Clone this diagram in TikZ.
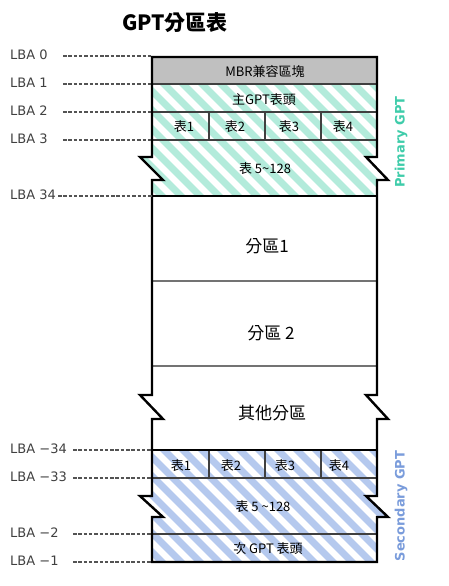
\documentclass[tikz,border=0pt]{standalone}
\usepackage{fontspec}
\setmainfont{DejaVu Sans}
\newfontfamily\cjk{Noto Sans CJK TC}
\usepackage{tikz}
\usetikzlibrary{positioning}
\definecolor{gptteal}{HTML}{B3EBDB}
\definecolor{gptblue}{HTML}{B5C9EE}
\definecolor{tealtext}{HTML}{3FCCAA}
\definecolor{bluetext}{HTML}{7A9CDB}
\definecolor{mbrgray}{HTML}{C0C0C0}
\definecolor{lbagray}{HTML}{404040}
\newcommand\gptoutline{(152,57) -- (152,157) -- (140,157) -- (163,180) -- (152,180)
  -- (152,395) -- (140,395) -- (163,419) -- (152,419)
  -- (152,496) -- (140,496) -- (163,517) -- (152,517) -- (152,562)
  -- (377,562) -- (377,517) -- (388,517) -- (366,496) -- (377,496)
  -- (377,419) -- (388,419) -- (366,395) -- (377,395)
  -- (377,180) -- (388,180) -- (366,157) -- (377,157) -- (377,57) -- cycle}

\begin{document}
\begin{tikzpicture}[x=1pt, y=-1pt,
    lba/.style={font=\fontsize{13}{15}\selectfont, text=lbagray, anchor=west, inner sep=0pt},
    lead/.style={draw=lbagray!90, dash pattern=on 3.5pt off 1.8pt, line width=1.3pt},
    cell/.style={font=\cjk\fontsize{13}{15}\selectfont, inner sep=0pt},
    part/.style={font=\cjk\fontsize{17}{19}\selectfont, inner sep=0pt},
    rowline/.style={draw=black!75, line width=1.2pt},
    partline/.style={draw=black!55, line width=1.6pt},
    boxedge/.style={draw=black, line width=2.4pt, line join=miter},
    stripe/.style={line width=6.8pt},
    side/.style={font=\bfseries\fontsize{13}{15}\selectfont, rotate=90, inner sep=0pt},
]
\useasboundingbox (0,0) rectangle (448,586);

\begin{scope}
  \clip \gptoutline;
  \fill[white] (120,50) rectangle (400,570);
  \fill[mbrgray] (120,50) rectangle (400,84);
  \begin{scope}
    \clip (120,84) rectangle (400,196);
    \foreach \a in {-40,-21,...,400} \draw[stripe, gptteal] (\a,70) -- (\a+140,210);
  \end{scope}
  \begin{scope}
    \clip (120,450) rectangle (400,562);
    \foreach \a in {-40,-21,...,400} \draw[stripe, gptblue] (\a,436) -- (\a+140,576);
  \end{scope}
\end{scope}

\foreach \y in {84,112,140,478,534} \draw[rowline] (152,\y) -- (377,\y);
\foreach \y in {281,366} \draw[partline] (152,\y) -- (377,\y);
\foreach \x in {209,265,321} \draw[rowline] (\x,112) -- (\x,140) (\x,450) -- (\x,478);
\foreach \y in {196,450} \draw[boxedge] (152,\y) -- (377,\y);
\draw[boxedge] \gptoutline;

\node[font=\cjk\bfseries\fontsize{21}{24}\selectfont] (title) at (175,23) {GPT分區表};

\foreach \n/\y/\t/\d in {a/56/LBA 0/63, b/84/LBA 1/63, c/112/LBA 2/63, d/140/LBA 3/63,
    e/196/LBA 34/58, f/450/LBA −34/73, g/478/LBA −33/73, h/534/LBA −2/73, i/562/LBA −1/73} {
  \node[lba] (lba\n) at (10,\y-1) {\t};
  \coordinate (from\n) at (\d,\y);
  \coordinate (in\n) at (152,\y);
  \draw[lead] (from\n) -- (in\n);
}

\node[cell] (mbr) at (265,72) {MBR兼容區塊};
\node[cell] (hdr) at (264,100) {主GPT表頭};
\node[cell] (t1) at (184,127) {表1};
\node[cell] (t2) at (235,127) {表2};
\node[cell] (t3) at (289,127) {表3};
\node[cell] (t4) at (343,127) {表4};
\node[cell] (trest) at (265,169) {表 5\char`~128};

\node[part] (p1) at (267,246) {分區1};
\node[part] (p2) at (271,333) {分區 2};
\node[part] (pother) at (272,413) {其他分區};

\node[cell] (bt1) at (181,466) {表1};
\node[cell] (bt2) at (231,466) {表2};
\node[cell] (bt3) at (285,466) {表3};
\node[cell] (bt4) at (339,466) {表4};
\node[cell] (btrest) at (263,507) {表 5 \char`~ 128};
\node[cell] (bhdr) at (268,549) {次 GPT 表頭};

\node[side, text=tealtext] (primary) at (401,142) {Primary GPT};
\node[side, text=bluetext] (secondary) at (401,506) {Secondary GPT};
\end{tikzpicture}
\end{document}
